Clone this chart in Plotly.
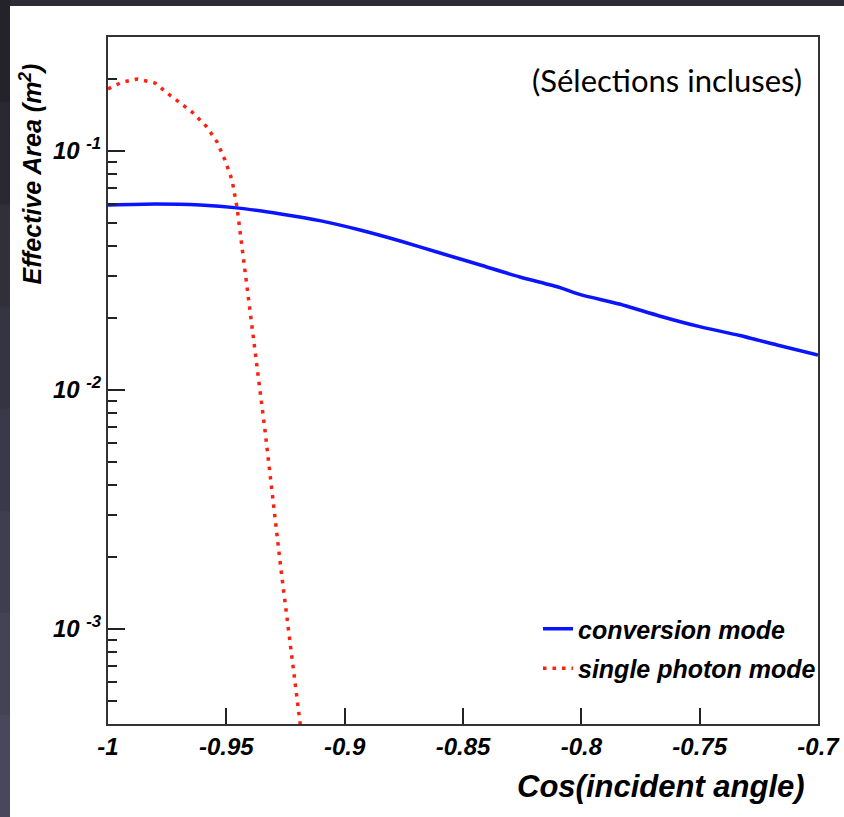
import plotly.graph_objects as go

# Effective area vs cos(incident angle), two detection modes
cos_conversion = [-1.0, -0.98, -0.961, -0.9455, -0.927, -0.91, -0.8935, -0.8765, -0.86,
                  -0.843, -0.826, -0.809, -0.80, -0.784, -0.767, -0.75, -0.733, -0.716, -0.70]
area_conversion = [0.0594, 0.0600, 0.0594, 0.0578, 0.0545, 0.0510, 0.0467, 0.0420, 0.0375,
                   0.0334, 0.0297, 0.0268, 0.0250, 0.0229, 0.0204, 0.0184, 0.0169, 0.0153, 0.0140]

cos_single = [-1.0, -0.9941, -0.9877, -0.9801, -0.9751, -0.9645, -0.9582, -0.9539, -0.9506,
              -0.9476, -0.9455, -0.94, -0.9337, -0.9269, -0.9189, -0.9185]
area_single = [0.182, 0.194, 0.200, 0.1925, 0.175, 0.1456, 0.126, 0.109, 0.0917,
               0.0756, 0.0583, 0.0216, 0.00682, 0.00177, 0.00041, 0.00038]

x_ticks = [-1, -0.95, -0.9, -0.85, -0.8, -0.75, -0.7]
x_tick_text = ["-1", "-0.95", "-0.9", "-0.85", "-0.8", "-0.75", "-0.7"]
y_ticks = [1e-3, 1e-2, 1e-1]
y_tick_text = ["10 <sup>-3</sup>", "10 <sup>-2</sup>", "10 <sup>-1</sup>"]

W, H = 844, 817
L, R, T, B = 108, 818, 37, 724   # plot area edges in pixels


def px_x(p):
    return (p - L) / (R - L)


def px_y(p):
    return (B - p) / (B - T)


BOLD_IT = dict(family="Liberation Sans, Arial, sans-serif", weight="bold",
               style="italic", color="black")

fig = go.Figure()
fig.add_trace(go.Scatter(
    x=cos_conversion, y=area_conversion, mode="lines", name="conversion mode",
    legendgroup="a", line=dict(color="#0a14ff", width=3.5, shape="spline", smoothing=0.6),
))
fig.add_trace(go.Scatter(
    x=cos_single, y=area_single, mode="lines", name="single photon mode",
    legendgroup="b", line=dict(color="#ff2010", width=3.5, dash="3.5px,6px"),
))

# dark surround with a white panel behind the frame
shapes = []
strip_cols = ["#24232c", "#2a2933", "#302f3a", "#353442", "#3a3949", "#3f3e50", "#444356", "#48475b"]
n = len(strip_cols)
for i, c in enumerate(strip_cols):
    shapes.append(dict(type="rect", xref="paper", yref="paper", layer="below",
                       x0=px_x(0), x1=px_x(10.5),
                       y0=px_y(H * (i + 1) / n + 1), y1=px_y(H * i / n),
                       line=dict(width=0), fillcolor=c))
shapes.append(dict(type="rect", xref="paper", yref="paper", layer="below",
                   x0=px_x(10), x1=px_x(W + 5), y0=px_y(H + 5), y1=px_y(6),
                   line=dict(width=0), fillcolor="white"))

annotations = [
    dict(text="Cos(incident angle)", xref="paper", yref="paper",
         x=px_x(807), y=px_y(786), xanchor="right", yanchor="middle",
         showarrow=False, font=dict(size=31, **BOLD_IT)),
    dict(text="Effective Area (m<sup>2</sup>)", xref="paper", yref="paper",
         x=px_x(30), y=px_y(62), xanchor="center", yanchor="top", textangle=-90,
         showarrow=False, font=dict(size=25, **BOLD_IT)),
    dict(text="(Sélections incluses)", xref="paper", yref="paper",
         x=px_x(804), y=px_y(80), xanchor="right", yanchor="middle",
         showarrow=False, font=dict(family="Lato, sans-serif", size=31, color="black")),
]

fig.update_layout(
    width=W, height=H,
    margin=dict(l=L, r=W - R, t=T, b=H - B, pad=0, autoexpand=False),
    paper_bgcolor="#2c2b36", plot_bgcolor="white",
    shapes=shapes, annotations=annotations,
    showlegend=True,
    legend=dict(x=px_x(538), y=px_y(606), xanchor="left", yanchor="top",
                bgcolor="rgba(0,0,0,0)", borderwidth=0,
                font=dict(size=25, **BOLD_IT),
                traceorder="grouped", tracegroupgap=4, itemwidth=30),
    xaxis=dict(range=[-1, -0.7], tickvals=x_ticks, ticktext=x_tick_text,
               ticks="inside", ticklen=16, tickwidth=2, tickcolor="#222",
               showline=True, linecolor="#333", linewidth=2, mirror=True,
               showgrid=False, zeroline=False, automargin=False,
               tickfont=dict(size=24, **BOLD_IT)),
    yaxis=dict(type="log", range=[-3.398, -0.523], tickvals=y_ticks, ticktext=y_tick_text,
               ticks="inside", ticklen=17, tickwidth=2, tickcolor="#222",
               minor=dict(ticks="inside", ticklen=9, tickwidth=2, tickcolor="#222",
                          dtick="D1", showgrid=False),
               showline=True, linecolor="#333", linewidth=2, mirror=True,
               showgrid=False, zeroline=False, automargin=False,
               tickfont=dict(size=24, **BOLD_IT)),
)

fig.write_html("out.html")
